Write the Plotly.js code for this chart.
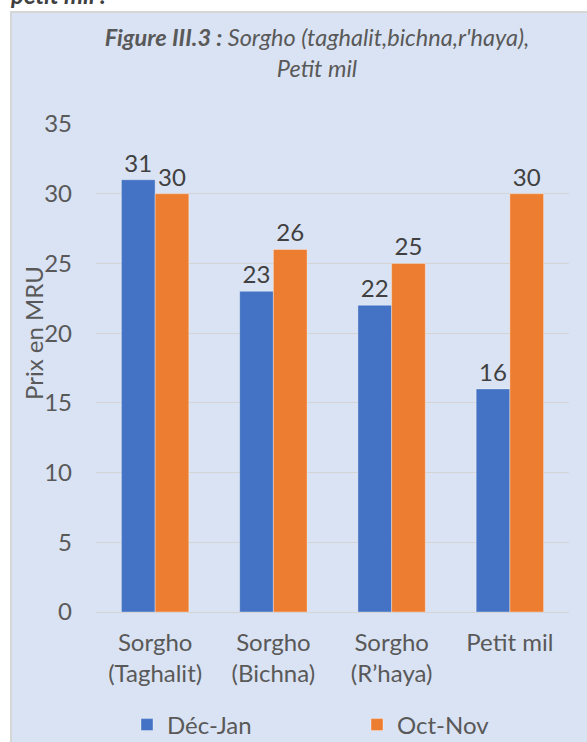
<!DOCTYPE html>
<html>
<head>
<meta charset="utf-8">
<script src="https://cdn.plot.ly/plotly-3.0.1.min.js"></script>
<style>html,body{margin:0;padding:0;background:#fff;}#chart{width:587px;height:742px;}</style>
</head>
<body>
<div id="chart"></div>
<script>
const categories = ["Sorgho<br>(Taghalit)", "Sorgho<br>(Bichna)", "Sorgho<br>(R’haya)", "Petit mil"];
const decJan = [31, 23, 22, 16];
const octNov = [30, 26, 25, 30];
const seriesNames = ["Déc-Jan", "Oct-Nov"];
const yTicks = [0, 5, 10, 15, 20, 25, 30, 35];

const FONT = "Lato, 'Open Sans', sans-serif";
const GREY = "#595959";
const FS = 24;

const traces = [
  {type: "bar", name: seriesNames[0], x: categories, y: decJan, legend: "legend",
   marker: {color: "#4472c4", line: {color: "rgba(255,255,255,0.35)", width: 1}},
   text: decJan.map(String), textposition: "outside", cliponaxis: false,
   textfont: {family: FONT, size: FS, color: "#404040"}},
  {type: "bar", name: seriesNames[1], x: categories, y: octNov, legend: "legend2",
   marker: {color: "#ed7d31", line: {color: "rgba(255,255,255,0.35)", width: 1}},
   text: octNov.map(String), textposition: "outside", cliponaxis: false,
   textfont: {family: FONT, size: FS, color: "#404040"}}
];

const legendCommon = {
  orientation: "h", xref: "container", yref: "container",
  xanchor: "left", y: 1 - 725/742, yanchor: "middle",
  font: {family: FONT, size: FS, color: GREY},
  bgcolor: "rgba(0,0,0,0)"
};

const layout = {
  width: 587, height: 742,
  margin: {l: 96, r: 18, t: 124, b: 130},
  paper_bgcolor: "rgba(0,0,0,0)",
  plot_bgcolor: "rgba(0,0,0,0)",
  font: {family: FONT, color: GREY},
  showlegend: true,
  barmode: "group",
  bargap: 0.43,
  bargroupgap: 0,
  title: {
    text: "<b><i>Figure III.3 :</i></b><i> Sorgho (taghalit,bichna,r'haya),</i><br><i>Petit mil</i>",
    font: {family: FONT, size: 23.5, color: GREY},
    x: 0.54, xanchor: "center", xref: "container",
    y: 1 - 46/742, yanchor: "middle", yref: "container"
  },
  xaxis: {
    type: "category",
    tickfont: {family: FONT, size: FS, color: GREY},
    showgrid: false, showline: false, zeroline: false,
    ticks: "", ticklabelstandoff: 14
  },
  yaxis: {
    range: [0, 35], tickvals: yTicks,
    tickfont: {family: FONT, size: FS, color: GREY},
    showgrid: true, gridcolor: "#d4d4d4", gridwidth: 1,
    zeroline: true, zerolinecolor: "#d4d4d4", zerolinewidth: 1,
    showline: false, ticks: "", ticklabelstandoff: 23
  },
  legend: Object.assign({}, legendCommon, {x: 127/587}),
  legend2: Object.assign({}, legendCommon, {x: 357/587}),
  shapes: [
    {type: "rect", xref: "paper", yref: "paper", layer: "below",
     x0: (11 - 96)/473, x1: (600 - 96)/473,
     y0: (612 - 760)/488, y1: (612 - 12)/488,
     fillcolor: "#dae3f3", line: {color: "#d6d6d6", width: 2}}
  ],
  annotations: [
    {text: "Prix en MRU", xref: "paper", yref: "paper",
     x: (33 - 96)/473, y: (612 - 333)/488, xanchor: "center", yanchor: "middle",
     textangle: -90, showarrow: false, font: {family: FONT, size: FS, color: GREY}},
    {text: "<b><i>petit mil :</i></b>", xref: "paper", yref: "paper",
     x: (8 - 96)/473, y: (612 - 11)/488, xanchor: "left", yanchor: "bottom",
     showarrow: false, font: {family: FONT, size: 24, color: "#404040"}}
  ]
};

Plotly.newPlot("chart", traces, layout, {displayModeBar: false, staticPlot: true});
</script>
</body>
</html>
